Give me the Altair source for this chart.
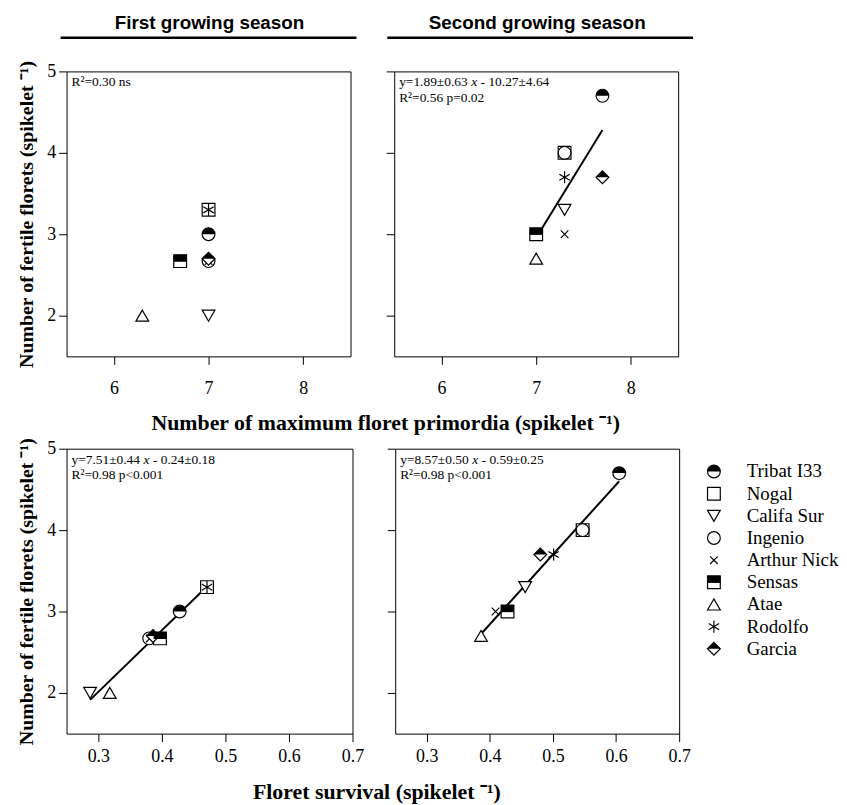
import altair as alt
import pandas as pd

# ---------------- data ----------------
varieties = ["Tribat I33", "Nogal", "Califa Sur", "Ingenio", "Arthur Nick",
             "Sensas", "Atae", "Rodolfo", "Garcia"]

# first growing season
primordia_1 = [7.0, 7.0, 7.0, 7.0, 7.0, 6.7, 6.3, 7.0, 7.0]
fertile_1 = [3.0, 3.3, 2.0, 2.67, 2.67, 2.67, 2.0, 3.3, 2.7]
survival_1 = [0.428, 0.471, 0.287, 0.380, 0.381, 0.397, 0.318, 0.471, 0.386]

# second growing season
primordia_2 = [7.7, 7.3, 7.3, 7.3, 7.3, 7.0, 7.0, 7.3, 7.7]
fertile_2 = [4.7, 4.0, 3.3, 4.0, 3.0, 3.0, 2.7, 3.7, 3.7]
survival_2 = [0.605, 0.547, 0.456, 0.547, 0.409, 0.428, 0.386, 0.501, 0.480]

primordia_ticks = [6, 7, 8]
survival_ticks = [0.3, 0.4, 0.5, 0.6, 0.7]
fertile_ticks = [2, 3, 4, 5]

season_titles = ["First growing season", "Second growing season"]
x_titles = ["Number of maximum floret primordia (spikelet \u207b\u00b9)",
            "Floret survival (spikelet \u207b\u00b9)"]
y_title = "Number of fertile florets (spikelet \u207b\u00b9)"

eq_left = ["y=1.89\u00b10.63", "y=7.51\u00b10.44", "y=8.57\u00b10.50"]
eq_right = ["- 10.27\u00b14.64", "- 0.24\u00b10.18", "- 0.59\u00b10.25"]
r2_texts = ["R\u00b2=0.30 ns", "R\u00b2=0.56 p=0.02", "R\u00b2=0.98 p<0.001", "R\u00b2=0.98 p<0.001"]

# ---------------- styling ----------------
SERIF = "Liberation Serif"
TITLE_FONT = "Liberation Sans"
W, H = 286, 287
SYM = 165

x_cross = "M-0.6,-0.6L0.6,0.6M-0.6,0.6L0.6,-0.6"
asterisk = "M0,-0.95L0,0.95M-0.82,-0.48L0.82,0.48M-0.82,0.48L0.82,-0.48"
outline_shapes = ["circle", "square", "triangle-down", "circle", x_cross,
                  "square", "triangle-up", asterisk, "diamond"]
half_varieties = ["Tribat I33", "Sensas", "Garcia"]
half_shapes = ["M-1,0A1,1,0,0,1,1,0Z", "M-1,-1L1,-1L1,0.1L-1,0.1Z", "M-1,0L0,-1L1,0Z"]

one = pd.DataFrame({"k": [0]})


def symbol_layers(base, x, y):
    outline = base.mark_point(filled=True, fill="white", stroke="black",
                              strokeWidth=1.2, size=SYM, opacity=1).encode(
        x=x, y=y,
        shape=alt.Shape("variety:N", scale=alt.Scale(domain=varieties, range=outline_shapes),
                        legend=None))
    half = base.transform_filter(
        alt.FieldOneOfPredicate(field="variety", oneOf=half_varieties)
    ).mark_point(filled=True, fill="black", strokeWidth=0, size=SYM, opacity=1).encode(
        x=x, y=y,
        shape=alt.Shape("variety:N", scale=alt.Scale(domain=half_varieties, range=half_shapes),
                        legend=None))
    return [outline, half]


def text_mark(txt, xpos, ypos, italic=False, size=13.5):
    kw = dict(text=txt, align="left", baseline="alphabetic", font=SERIF,
              fontSize=size, color="black")
    if italic:
        kw["fontStyle"] = "italic"
    return alt.Chart(one).mark_text(**kw).encode(x=alt.value(xpos), y=alt.value(ypos))


def panel(xvals, yvals, xdomain, xticks, xfmt, left, label_pad, width=W, xtitle=None,
          xtitle_pos=(0, 0), ytitle_x=-40, regress=False, eq=None, r2="",
          col_title=None, underline=None):
    df = pd.DataFrame({"variety": varieties, "x": xvals, "y": yvals})
    base = alt.Chart(df)
    xax = dict(values=xticks, format=xfmt, domain=False, grid=False, tickSize=8,
               tickColor="black", tickWidth=1, labelFont=SERIF, labelFontSize=18,
               labelColor="black", labelPadding=label_pad, labelFlush=False,
               labelOverlap=False)
    if xtitle:
        xax.update(title=xtitle, titleX=xtitle_pos[0], titleY=xtitle_pos[1],
                   titleFont=SERIF, titleFontSize=22, titleFontWeight="bold",
                   titleColor="black", titleBaseline="middle", titleAlign="center")
    else:
        xax["title"] = None
    yax = dict(values=fertile_ticks, format="d", domain=False, grid=False, tickSize=8,
               tickColor="black", tickWidth=1, labelFont=SERIF, labelFontSize=18,
               labelColor="black", labelPadding=3, labels=left)
    if left:
        yax.update(title=y_title, titleX=ytitle_x, titleY=H / 2, titleFont=SERIF,
                   titleFontSize=20, titleFontWeight="bold", titleColor="black",
                   titleAngle=270, titleBaseline="middle", titleAlign="center")
    else:
        yax["title"] = None
    x = alt.X("x:Q", scale=alt.Scale(domain=xdomain, nice=False, zero=False),
              axis=alt.Axis(**xax))
    y = alt.Y("y:Q", scale=alt.Scale(domain=[1.5, 5], nice=False, zero=False),
              axis=alt.Axis(**yax))
    layers = []
    if regress:
        layers.append(base.transform_regression("x", "y").mark_line(
            color="black", strokeWidth=2).encode(x=x, y=y))
    else:
        layers.append(base.mark_point(opacity=0).encode(x=x, y=y))
    layers += symbol_layers(base, x, y)
    if eq is not None:
        layers.append(text_mark(eq_left[eq], 5, 15))
        layers.append(text_mark("x", 77.5, 15, italic=True))
        layers.append(text_mark(eq_right[eq], 87, 15))
        layers.append(text_mark(r2, 5, 31))
    else:
        layers.append(text_mark(r2, 5, 15))
    if col_title:
        layers.append(alt.Chart(one).mark_text(
            text=col_title, align="center", baseline="middle", font=TITLE_FONT,
            fontSize=19, fontWeight="bold", color="black").encode(
            x=alt.value(width / 2 + 1), y=alt.value(-49)))
        layers.append(alt.Chart(one).mark_rule(color="black", strokeWidth=2.5).encode(
            x=alt.value(underline[0]), x2=alt.value(underline[1]), y=alt.value(-34)))
    return alt.layer(*layers).resolve_scale(shape="independent").properties(
        width=width, height=H)


tl = panel(primordia_1, fertile_1, [5.5, 8.5], primordia_ticks, "d", True, 15,
           xtitle=x_titles[0], xtitle_pos=(321, 67), ytitle_x=-40,
           r2=r2_texts[0], col_title=season_titles[0], underline=(-6, 292))
tr = panel(primordia_2, fertile_2, [5.5, 8.5], primordia_ticks, "d", False, 15,
           regress=True, eq=0, r2=r2_texts[1], col_title=season_titles[1],
           underline=(-7, 301))
bl = panel(survival_1, fertile_1, [0.25, 0.7], survival_ticks, ".1f", True, 6, width=288,
           xtitle=x_titles[1], xtitle_pos=(312, 58), ytitle_x=-40,
           regress=True, eq=1, r2=r2_texts[2])
br = panel(survival_2, fertile_2, [0.25, 0.7], survival_ticks, ".1f", False, 6,
           regress=True, eq=2, r2=r2_texts[3])

# legend panel built from the variety list
LEG_SHIFT = -33  # legend column sits closer than the panel spacing
leg_df = pd.DataFrame({"variety": varieties, "rank": list(range(len(varieties)))})
leg_base = alt.Chart(leg_df)
ly = alt.Y("rank:Q", scale=alt.Scale(domain=[-1.03, 11.83], reverse=True, nice=False, zero=False),
           axis=None)
lx = alt.value(25 + LEG_SHIFT)
leg_layers = symbol_layers(leg_base, lx, ly)
leg_layers.append(leg_base.mark_text(align="left", baseline="middle", font=SERIF,
                                     fontSize=19, color="black").encode(
    x=alt.value(58 + LEG_SHIFT), y=ly, text="variety:N"))
legend = alt.layer(*leg_layers).resolve_scale(shape="independent").properties(
    width=100, height=H, view=alt.ViewBackground(stroke="transparent"))

top = alt.hconcat(tl, tr, spacing=44, bounds="flush")
bottom = alt.hconcat(bl, br, legend, spacing=43, bounds="flush")

chart = alt.vconcat(top, bottom, spacing=2).properties(
    padding={"left": 8, "top": 2, "right": 0, "bottom": 0}
).configure_view(stroke="black", strokeWidth=1)

chart.save("out.html", embed_options={"renderer": "svg", "actions": False})
